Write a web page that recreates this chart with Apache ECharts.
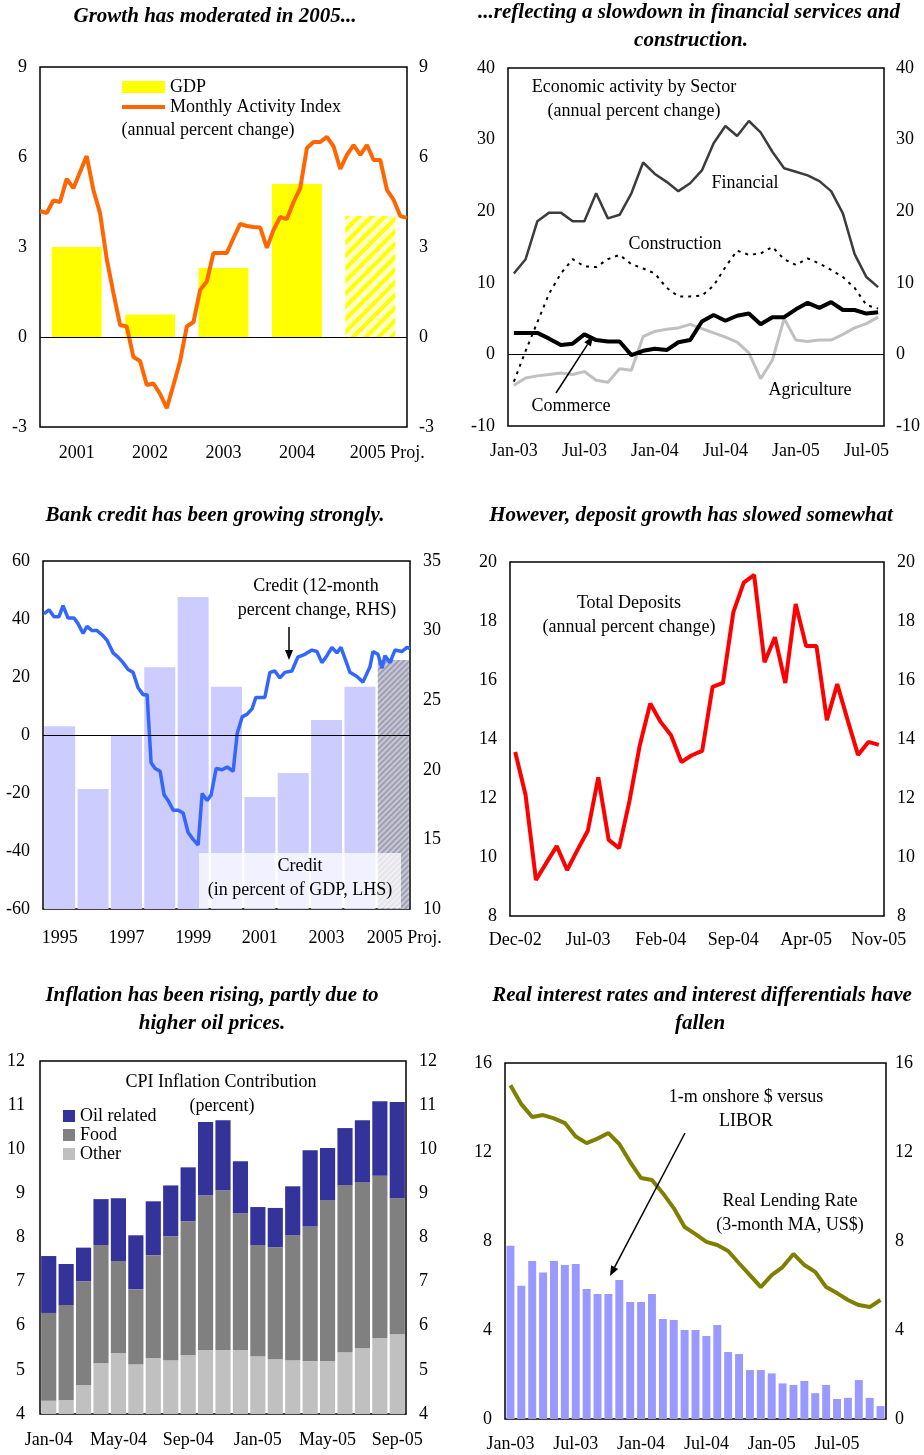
<!DOCTYPE html>
<html><head><meta charset="utf-8">
<script src="https://cdn.jsdelivr.net/npm/echarts@6/dist/echarts.min.js"></script>
<style>html,body{margin:0;padding:0;background:#fff}#c{width:924px;height:1455px}</style>
</head><body><div id="c"></div>
<script>
const FONT = '"Liberation Serif","Times New Roman",serif';
const MON = ['Jan','Feb','Mar','Apr','May','Jun','Jul','Aug','Sep','Oct','Nov','Dec'];
function monthLabels(m0, y0, n) {
  const out = [];
  for (let i = 0; i < n; i++) {
    const k = m0 + i;
    out.push(MON[k % 12] + '-' + String((y0 + Math.floor(k / 12)) % 100).padStart(2, '0'));
  }
  return out;
}

// ---------- Panel 1: growth ----------
const gdpYears = ['2001', '2002', '2003', '2004', '2005 Proj.'];
const gdpGrowth = [3.0, 0.75, 2.3, 5.1, 4.03];
const activityIndex = [4.2, 4.13, 4.55, 4.5, 5.27, 4.96, 5.5, 6.03, 4.9, 4.13, 2.6, 1.47, 0.4, 0.35, -0.67, -0.8,
  -1.6, -1.55, -1.9, -2.37, -1.6, -0.8, 0.35, 0.5, 1.57, 1.85, 2.8, 2.8, 2.8, 3.3, 3.77, 3.7, 3.67, 3.65, 2.97,
  3.57, 4.0, 3.93, 4.5, 4.96, 6.3, 6.5, 6.5, 6.67, 6.35, 5.6, 6.07, 6.4, 6.07, 6.4, 5.9, 5.9, 4.9, 4.57, 4.03, 3.97];

// ---------- Panel 2: sectors ----------
const sectorMonths = monthLabels(0, 2003, 32);
const financial = [11.3, 13.3, 18.6, 19.8, 19.8, 18.6, 18.6, 22.5, 19.0, 19.5, 22.5, 26.8, 25.2, 24.1, 22.8, 23.9,
  25.7, 29.5, 31.9, 30.5, 32.6, 31.0, 28.3, 26.0, 25.5, 25.0, 24.2, 22.8, 19.7, 14.0, 10.8, 9.4];
const construction = [-3.8, 0.5, 4.5, 8.5, 11.3, 13.3, 12.3, 12.2, 13.3, 13.9, 12.6, 12.0, 11.3, 9.3, 8.1, 8.1,
  8.2, 9.6, 12.2, 14.5, 13.9, 14.1, 15.0, 13.3, 12.5, 13.4, 12.7, 11.8, 10.8, 9.3, 6.9, 6.4];
const commerce = [3.0, 3.0, 3.0, 2.2, 1.3, 1.5, 2.8, 2.0, 1.8, 1.8, -0.1, 0.5, 0.8, 0.6, 1.7, 2.0,
  4.6, 5.5, 4.7, 5.4, 5.7, 4.2, 5.2, 5.2, 6.3, 7.2, 6.5, 7.3, 6.2, 6.2, 5.7, 5.9];
const agriculture = [-4.3, -3.3, -3.0, -2.8, -2.6, -2.8, -2.4, -3.6, -3.9, -2.0, -2.2, 2.5, 3.2, 3.5, 3.7, 4.2,
  3.6, 3.0, 2.4, 1.7, 0.2, -3.4, -0.8, 5.0, 2.0, 1.8, 2.0, 2.0, 2.8, 3.7, 4.3, 5.2];

// ---------- Panel 3: bank credit ----------
const creditYears = ['1995', '1996', '1997', '1998', '1999', '2000', '2001', '2002', '2003', '2004', '2005 Proj.'];
const creditToGdp = [3.0, -18.6, 0.0, 23.4, 47.6, 16.6, -21.4, -13.1, 5.2, 16.6, 25.9];
const CREDIT_LHS_MIN = -60;
const creditGrowthTime = [1994.53,1994.68,1994.83,1994.98,1995.10,1995.25,1995.43,1995.55,1995.70,1995.82,
  1995.97,1996.12,1996.27,1996.42,1996.60,1996.75,1996.90,1997.05,1997.20,1997.35,
  1997.50,1997.62,1997.74,1997.86,1998.01,1998.13,1998.25,1998.40,1998.55,1998.70,
  1998.85,1999.00,1999.15,1999.27,1999.42,1999.54,1999.69,1999.87,2000.02,2000.20,
  2000.32,2000.47,2000.62,2000.77,2000.88,2001.06,2001.15,2001.30,2001.45,2001.60,
  2001.75,2001.96,2002.14,2002.35,2002.56,2002.71,2002.86,2003.01,2003.16,2003.31,
  2003.43,2003.55,2003.70,2003.91,2004.09,2004.30,2004.39,2004.54,2004.66,2004.75,
  2004.90,2005.05,2005.26,2005.41,2005.50];
const creditGrowth = [31.2,31.5,31.0,31.0,31.8,30.9,30.9,30.5,29.8,30.3,
  30.0,30.0,29.7,29.3,28.4,28.1,27.7,27.2,27.0,25.9,
  25.4,25.4,20.5,20.1,19.9,18.2,17.8,17.1,17.1,16.9,
  15.5,15.0,14.6,18.3,17.8,18.2,20.1,20.0,20.2,19.9,
  22.6,23.8,24.0,24.4,25.2,25.2,25.2,27.0,27.1,26.6,
  27.0,27.1,28.1,28.3,28.6,28.5,27.7,28.2,28.8,28.4,
  28.8,28.0,27.0,26.7,26.3,27.4,28.5,28.3,27.3,28.2,
  27.7,28.6,28.5,28.8,28.7];

// ---------- Panel 4: deposits ----------
const depositMonths = monthLabels(11, 2002, 36);
const deposits = [13.56, 12.1, 9.22, 9.8, 10.37, 9.56, 10.24, 10.9, 12.7, 10.58, 10.3, 11.9, 13.8, 15.2, 14.58,
  14.13, 13.22, 13.45, 13.6, 15.77, 15.9, 18.3, 19.3, 19.56, 16.6, 17.45, 15.9, 18.58, 17.15, 17.15, 14.64,
  15.86, 14.64, 13.46, 13.9, 13.8];

// ---------- Panel 5: CPI contributions ----------
const cpiMonths = monthLabels(0, 2004, 21);
const cpiOther = [4.30, 4.31, 4.65, 5.15, 5.38, 5.13, 5.27, 5.22, 5.33, 5.45, 5.45, 5.45, 5.31, 5.24, 5.22, 5.20, 5.20, 5.40, 5.49, 5.72, 5.81];
const cpiFood = [1.99, 2.16, 2.36, 2.68, 2.09, 1.70, 2.33, 2.81, 3.04, 3.51, 3.62, 3.10, 2.52, 2.54, 2.83, 3.05, 3.65, 3.79, 3.77, 3.68, 3.08];
const cpiOil = [1.29, 0.93, 0.76, 1.04, 1.42, 1.22, 1.22, 1.15, 1.22, 1.66, 1.59, 1.18, 0.86, 0.89, 1.11, 1.73, 1.18, 1.29, 1.40, 1.69, 2.18];

// ---------- Panel 6: interest rates ----------
const rateMonths = monthLabels(0, 2003, 35);
const liborSpread = [7.79, 5.99, 7.10, 6.58, 7.10, 6.92, 6.97, 5.84, 5.62, 5.62, 6.25, 5.26, 5.26, 5.62, 4.49, 4.45,
  4.00, 4.00, 3.73, 4.22, 3.01, 2.92, 2.20, 2.20, 2.05, 1.60, 1.53, 1.71, 1.16, 1.53, 0.90, 0.95, 1.75, 0.95, 0.58];
const realLending = [15.0, 14.15, 13.57, 13.66, 13.51, 13.3, 12.7, 12.4, 12.6, 12.85, 12.36, 11.55, 10.83, 10.74,
  10.15, 9.48, 8.63, 8.31, 7.96, 7.82, 7.55, 7.0, 6.47, 5.93, 6.47, 6.83, 7.42, 6.92, 6.61, 5.93, 5.66, 5.35,
  5.12, 5.03, 5.35];

// ---------- helpers ----------
const TICK = 18;
const NOTE = 18;
function grid(left, top, width, height) {
  return { left, top, width, height, show: true, borderColor: '#000', borderWidth: 1.5, backgroundColor: 'transparent' };
}
function valAxis(g, min, max, interval, position, margin) {
  return { type: 'value', gridIndex: g, min, max, interval, position,
    axisLine: { show: false }, axisTick: { show: false }, splitLine: { show: false },
    axisLabel: { color: '#000', fontSize: TICK, fontFamily: FONT, margin } };
}
function hiddenVal(g, min, max) {
  return { type: 'value', gridIndex: g, min, max, show: false, splitLine: { show: false } };
}
function catAxis(g, data, interval, margin, extra) {
  return Object.assign({ type: 'category', gridIndex: g, data, boundaryGap: true,
    axisLine: { show: false }, axisTick: { show: false }, splitLine: { show: false },
    axisLabel: { interval, color: '#000', fontSize: TICK, fontFamily: FONT, margin } }, extra || {});
}
function projLabel(pad) {
  return {
    formatter: v => v.indexOf('Proj') >= 0 ? '{p|' + v + '}' : v,
    rich: { p: { padding: [0, 0, 0, pad], fontSize: TICK, fontFamily: FONT, color: '#000' } }
  };
}
function zeroLine(v) {
  return { silent: true, symbol: 'none', animation: false, label: { show: false },
    lineStyle: { color: '#000', width: 1, type: 'solid' }, data: [{ yAxis: v }] };
}
function txt(x, y, text, opt) {
  opt = opt || {};
  const f = (opt.title ? 'italic bold 21px ' : 'normal ' + (opt.size || NOTE) + 'px ') + FONT;
  return { type: 'text', x, y, z: 100, silent: true,
    style: { text, font: f, fill: '#000', align: 'center', verticalAlign: 'middle' } };
}
function arrow(x1, y1, x2, y2) {
  const a = Math.atan2(y2 - y1, x2 - x1), L = 10, W = 4;
  const bx = x2 - L * Math.cos(a), by = y2 - L * Math.sin(a);
  const px = -Math.sin(a) * W, py = Math.cos(a) * W;
  return [
    { type: 'line', z: 100, silent: true, shape: { x1, y1, x2: bx, y2: by }, style: { stroke: '#000', lineWidth: 1.5 } },
    { type: 'polygon', z: 100, silent: true, shape: { points: [[x2, y2], [bx + px, by + py], [bx - px, by - py]] }, style: { fill: '#000' } }
  ];
}

const xLabel1 = catAxis(0, gdpYears, 0, 17);
Object.assign(xLabel1.axisLabel, projLabel(34));
const xLabel3 = catAxis(2, creditYears, 1, 20);
Object.assign(xLabel3.axisLabel, projLabel(22));

const option = {
  animation: false,
  backgroundColor: '#fff',
  grid: [
    grid(40, 67, 367, 360),
    grid(508, 68, 376, 358),
    grid(43, 561, 367, 348),
    grid(510, 562, 374, 354),
    grid(40, 1061, 366, 353),
    grid(505, 1063, 381, 356)
  ],
  xAxis: [
    xLabel1,                                   // 0
    hiddenVal(0, 0, activityIndex.length - 1), // 1
    catAxis(1, sectorMonths, 5, 16),           // 2
    xLabel3,                                   // 3
    hiddenVal(2, 1994.5, 2005.5),              // 4
    catAxis(3, depositMonths, 6, 15),          // 5
    catAxis(4, cpiMonths, 3, 17),              // 6
    catAxis(5, rateMonths, 5, 16)              // 7
  ],
  yAxis: [
    valAxis(0, -3, 9, 3, 'left', 13),    // 0
    valAxis(0, -3, 9, 3, 'right', 12),   // 1
    valAxis(1, -10, 40, 10, 'left', 13), // 2
    valAxis(1, -10, 40, 10, 'right', 12),// 3
    valAxis(2, -60, 60, 20, 'left', 13), // 4
    valAxis(2, 10, 35, 5, 'right', 13),  // 5
    hiddenVal(2, 0, 120),                // 6 (bars measured from LHS minimum)
    valAxis(3, 8, 20, 2, 'left', 13),    // 7
    valAxis(3, 8, 20, 2, 'right', 13),   // 8
    valAxis(4, 4, 12, 1, 'left', 15),    // 9
    valAxis(4, 4, 12, 1, 'right', 13),   // 10
    valAxis(5, 0, 16, 4, 'left', 13),    // 11
    valAxis(5, 0, 16, 4, 'right', 9)     // 12
  ],
  legend: [
    { data: [{ name: 'GDP', icon: 'rect' },
             { name: 'Monthly Activity Index', itemStyle: { opacity: 0 }, lineStyle: { width: 4, color: '#ff6600' } }],
      orient: 'vertical', left: 120, top: 78, padding: 0,
      itemWidth: 43, itemHeight: 12, itemGap: 2, selectedMode: false,
      lineStyle: { width: 4 },
      textStyle: { fontSize: NOTE, fontFamily: FONT, color: '#000' } },
    { data: ['Oil related', 'Food', 'Other'], icon: 'rect', orient: 'vertical', left: 63, top: 1107, padding: 0,
      itemWidth: 12, itemHeight: 12, itemGap: 1, selectedMode: false,
      textStyle: { fontSize: NOTE, fontFamily: FONT, color: '#000' } }
  ],
  series: [
    // Panel 1
    { name: 'GDP', type: 'bar', xAxisIndex: 0, yAxisIndex: 0, barCategoryGap: '32%',
      itemStyle: { color: '#ffff00' },
      data: gdpGrowth.map((v, i) => i === gdpGrowth.length - 1 ? { value: v, itemStyle: { color: '#ffffc8',
        decal: { symbol: 'rect', symbolSize: 1, dashArrayX: [1, 0], dashArrayY: [4, 5], rotation: -Math.PI / 4, color: '#ffff00' } } } : v),
      markLine: zeroLine(0), z: 2 },
    { name: 'Monthly Activity Index', type: 'line', xAxisIndex: 1, yAxisIndex: 0, symbol: 'none', z: 3,
      lineStyle: { color: '#ff6600', width: 4 }, itemStyle: { color: '#ff6600' },
      data: activityIndex.map((v, i) => [i, v]) },
    // Panel 2
    { name: 'Agriculture', type: 'line', xAxisIndex: 2, yAxisIndex: 2, symbol: 'none',
      lineStyle: { color: '#c0c0c0', width: 3 }, data: agriculture, markLine: zeroLine(0) },
    { name: 'Construction', type: 'line', xAxisIndex: 2, yAxisIndex: 2, symbol: 'none',
      lineStyle: { color: '#000', width: 2, type: [3, 5] }, data: construction },
    { name: 'Financial', type: 'line', xAxisIndex: 2, yAxisIndex: 2, symbol: 'none',
      lineStyle: { color: '#3c3c3c', width: 2.5 }, data: financial },
    { name: 'Commerce', type: 'line', xAxisIndex: 2, yAxisIndex: 2, symbol: 'none',
      lineStyle: { color: '#000', width: 4 }, data: commerce },
    // Panel 3
    { name: 'Credit (in percent of GDP, LHS)', type: 'bar', xAxisIndex: 3, yAxisIndex: 6, barCategoryGap: '7%',
      itemStyle: { color: '#ccccff' },
      data: creditToGdp.map((v, i) => {
        const val = v - CREDIT_LHS_MIN;
        return i === creditToGdp.length - 1 ? { value: val, itemStyle: { color: '#c6c6dc',
          decal: { symbol: 'rect', symbolSize: 1, dashArrayX: [1, 0], dashArrayY: [2, 2], rotation: -Math.PI / 4, color: 'rgba(150,150,160,0.8)' } } } : val;
      }),
      markLine: zeroLine(0 - CREDIT_LHS_MIN) },
    { name: 'Credit (12-month percent change, RHS)', type: 'line', xAxisIndex: 4, yAxisIndex: 5, symbol: 'none', z: 3,
      lineStyle: { color: '#3366ff', width: 3.5 },
      data: creditGrowthTime.map((t, i) => [t, creditGrowth[i]]) },
    // Panel 4
    { name: 'Total Deposits', type: 'line', xAxisIndex: 5, yAxisIndex: 7, symbol: 'none',
      lineStyle: { color: '#ff0000', width: 4 }, data: deposits },
    // Panel 5
    { name: 'Other', type: 'bar', stack: 'cpi', xAxisIndex: 6, yAxisIndex: 9, barCategoryGap: '13%',
      itemStyle: { color: '#c0c0c0' }, data: cpiOther },
    { name: 'Food', type: 'bar', stack: 'cpi', xAxisIndex: 6, yAxisIndex: 9,
      itemStyle: { color: '#808080' }, data: cpiFood },
    { name: 'Oil related', type: 'bar', stack: 'cpi', xAxisIndex: 6, yAxisIndex: 9,
      itemStyle: { color: '#333399' }, data: cpiOil },
    // Panel 6
    { name: '1-m onshore $ versus LIBOR', type: 'bar', xAxisIndex: 7, yAxisIndex: 11, barCategoryGap: '27%',
      itemStyle: { color: '#9999ff' }, data: liborSpread },
    { name: 'Real Lending Rate', type: 'line', xAxisIndex: 7, yAxisIndex: 11, symbol: 'none', z: 3,
      lineStyle: { color: '#808000', width: 4 }, data: realLending }
  ],
  graphic: [
    // titles
    txt(215, 17, 'Growth has moderated in 2005...', { title: true }),
    txt(689, 13, '...reflecting a slowdown in financial services and', { title: true }),
    txt(691, 41, 'construction.', { title: true }),
    txt(215, 516, 'Bank credit has been growing strongly.', { title: true }),
    txt(691, 516, 'However, deposit growth has slowed somewhat', { title: true }),
    txt(212, 996, 'Inflation has been rising, partly due to', { title: true }),
    txt(212, 1024, 'higher oil prices.', { title: true }),
    txt(702, 996, 'Real interest rates and interest differentials have', { title: true }),
    txt(700, 1024, 'fallen', { title: true }),
    // panel 1
    txt(208, 130, '(annual percent change)'),
    // panel 2
    txt(634, 87, 'Economic activity by Sector'),
    txt(634, 111, '(annual percent change)'),
    txt(745, 183, 'Financial'),
    txt(675, 244, 'Construction'),
    txt(810, 390, 'Agriculture'),
    txt(571, 406, 'Commerce'),
    ...arrow(556, 393, 593, 336),
    // panel 3
    { type: 'rect', z: 90, silent: true, shape: { x: 199, y: 853, width: 202, height: 55 }, style: { fill: 'rgba(255,255,255,0.72)' } },
    txt(316, 586, 'Credit (12-month'),
    txt(317, 610, 'percent change, RHS)'),
    ...arrow(289, 627, 289, 660),
    txt(300, 866, 'Credit'),
    txt(300, 890, '(in percent of GDP, LHS)'),
    // panel 4
    txt(629, 603, 'Total Deposits'),
    txt(629, 627, '(annual percent change)'),
    // panel 5
    txt(221, 1082, 'CPI Inflation Contribution'),
    txt(222, 1106, '(percent)'),
    // panel 6
    txt(746, 1097, '1-m onshore $ versus'),
    txt(746, 1121, 'LIBOR'),
    ...arrow(685, 1133, 610, 1276),
    txt(790, 1201, 'Real Lending Rate'),
    txt(790, 1225, '(3-month MA, US$)')
  ]
};

const chart = echarts.init(document.getElementById('c'), null, { renderer: 'canvas' });
chart.setOption(option);
</script>
</body></html>
